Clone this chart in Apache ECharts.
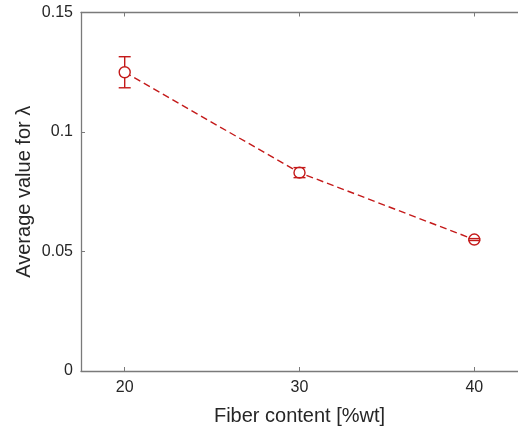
<!DOCTYPE html>
<html>
<head>
<meta charset="utf-8">
<title>Average value for lambda vs fiber content</title>
<script src="https://cdn.jsdelivr.net/npm/echarts@6/dist/echarts.min.js"></script>
<style>
  html, body { margin: 0; padding: 0; background: #ffffff; }
  #chart { width: 518px; height: 431px; }
</style>
</head>
<body>
<div id="chart"></div>
<script>
// Fiber content (%wt) and the measured average lambda with its error half-width
var fiberContent = [20, 30, 40];
var lambdaMean = [0.125, 0.083, 0.055];
var lambdaErr = [0.0065, 0.0021, 0.0004];
var xTicks = [20, 30, 40];

var RED = '#c41a1a';
var AXIS = '#7a7a7a';
var TEXT = '#262626';
var FONT = '"Liberation Sans", Arial, Helvetica, sans-serif';
var MARKER_R = 5.5;

var lineData = fiberContent.map(function (x, i) { return [x, lambdaMean[i]]; });
var errData = fiberContent.map(function (x, i) {
  return [x, lambdaMean[i], lambdaMean[i] - lambdaErr[i], lambdaMean[i] + lambdaErr[i]];
});

function renderErrorBar(params, api) {
  var x = api.value(0);
  var c = api.coord([x, api.value(1)]);
  var lo = api.coord([x, api.value(2)]);
  var hi = api.coord([x, api.value(3)]);
  var half = 6;
  var style = { stroke: RED, lineWidth: 1.4 };
  var children = [
    { type: 'line', shape: { x1: hi[0] - half, y1: hi[1], x2: hi[0] + half, y2: hi[1] }, style: style },
    { type: 'line', shape: { x1: lo[0] - half, y1: lo[1], x2: lo[0] + half, y2: lo[1] }, style: style }
  ];
  // whiskers stop at the marker edge
  if (hi[1] < c[1] - MARKER_R) {
    children.push({ type: 'line', shape: { x1: c[0], y1: hi[1], x2: c[0], y2: c[1] - MARKER_R }, style: style });
  }
  if (lo[1] > c[1] + MARKER_R) {
    children.push({ type: 'line', shape: { x1: c[0], y1: c[1] + MARKER_R, x2: c[0], y2: lo[1] }, style: style });
  }
  return { type: 'group', children: children };
}

var chart = echarts.init(document.getElementById('chart'), null, { renderer: 'canvas' });

var xAxisCommon = {
  type: 'value',
  min: 17.5,
  max: 42.5,
  splitLine: { show: false },
  axisLine: { show: true, onZero: false, lineStyle: { color: AXIS, width: 1.3 } }
};

chart.setOption({
  animation: false,
  backgroundColor: '#ffffff',
  grid: { left: 81, top: 12.5, right: -10, bottom: 60, containLabel: false },
  xAxis: [
    Object.assign({}, xAxisCommon, {
      position: 'bottom',
      name: 'Fiber content [%wt]',
      nameLocation: 'middle',
      nameGap: 35,
      nameMoveOverlap: false,
      nameTextStyle: { color: TEXT, fontSize: 20, fontFamily: FONT },
      axisTick: { show: true, inside: true, length: 4, customValues: xTicks, lineStyle: { color: AXIS, width: 1 } },
      axisLabel: { show: true, customValues: xTicks, margin: 9, color: TEXT, fontSize: 16, fontFamily: FONT }
    }),
    Object.assign({}, xAxisCommon, {
      position: 'top',
      axisTick: { show: true, inside: true, length: 4, customValues: xTicks, lineStyle: { color: AXIS, width: 1 } },
      axisLabel: { show: false }
    })
  ],
  yAxis: {
    type: 'value',
    min: 0,
    max: 0.15,
    interval: 0.05,
    name: 'Average value for \u03bb',
    nameLocation: 'middle',
    nameGap: 47,
    nameMoveOverlap: false,
    nameTextStyle: { color: TEXT, fontSize: 20, fontFamily: FONT },
    splitLine: { show: false },
    axisLine: { show: true, lineStyle: { color: AXIS, width: 1.3 } },
    axisTick: { show: true, inside: true, length: 4, lineStyle: { color: AXIS, width: 1 } },
    axisLabel: { color: TEXT, fontSize: 16, fontFamily: FONT, margin: 8 }
  },
  series: [
    {
      type: 'line',
      data: lineData,
      xAxisIndex: 0,
      symbol: 'circle',
      symbolSize: MARKER_R * 2,
      showSymbol: true,
      lineStyle: { color: RED, width: 1.4, type: [7, 4] },
      itemStyle: { color: '#ffffff', borderColor: RED, borderWidth: 1.4 },
      z: 2
    },
    {
      type: 'custom',
      data: errData,
      xAxisIndex: 0,
      renderItem: renderErrorBar,
      encode: { x: 0, y: [1, 2, 3] },
      z: 3
    }
  ]
});
</script>
</body>
</html>
